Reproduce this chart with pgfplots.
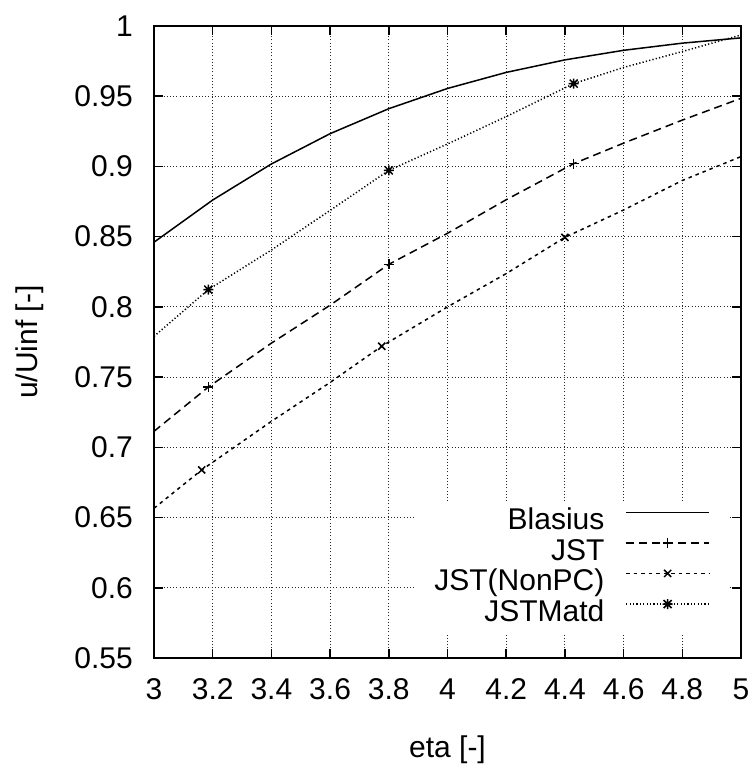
\documentclass[border=0pt]{standalone}
\usepackage{fontspec}
\setmainfont{Liberation Sans}
\usepackage{pgfplots}
\pgfplotsset{compat=1.18}

\pgfdeclareplotmark{gpast}{%
  \pgfpathmoveto{\pgfqpoint{-\pgfplotmarksize}{0pt}}%
  \pgfpathlineto{\pgfqpoint{\pgfplotmarksize}{0pt}}%
  \pgfpathmoveto{\pgfqpoint{0pt}{-\pgfplotmarksize}}%
  \pgfpathlineto{\pgfqpoint{0pt}{\pgfplotmarksize}}%
  \pgfpathmoveto{\pgfqpoint{-0.8\pgfplotmarksize}{-0.8\pgfplotmarksize}}%
  \pgfpathlineto{\pgfqpoint{0.8\pgfplotmarksize}{0.8\pgfplotmarksize}}%
  \pgfpathmoveto{\pgfqpoint{-0.8\pgfplotmarksize}{0.8\pgfplotmarksize}}%
  \pgfpathlineto{\pgfqpoint{0.8\pgfplotmarksize}{-0.8\pgfplotmarksize}}%
  \pgfusepathqstroke}

\begin{document}
\begin{tikzpicture}
\begin{axis}[
  name=ax,
  scale only axis, width=587bp, height=632bp,
  xmin=3, xmax=5, ymin=0.55, ymax=1,
  xtick={3,3.2,3.4,3.6,3.8,4,4.2,4.4,4.6,4.8,5},
  ytick={0.55,0.6,0.65,0.7,0.75,0.8,0.85,0.9,0.95,1},
  xticklabels={3,3.2,3.4,3.6,3.8,4,4.2,4.4,4.6,4.8,5},
  yticklabels={0.55,0.6,0.65,0.7,0.75,0.8,0.85,0.9,0.95,1},
  font=\fontsize{30bp}{35bp}\selectfont,
  grid=major,
  major grid style={line width=0.9bp, black!85, dash pattern=on 1bp off 2.2bp},
  axis line style={line width=1.7bp},
  every tick/.style={line width=1.5bp, black},
  tick align=inside, major tick length=9bp,
  xticklabel style={anchor=north, inner sep=0pt, yshift=-20.5bp},
  yticklabel style={anchor=east, inner sep=0pt, xshift=-21bp},
  xlabel={eta [-]}, ylabel={u/Uinf [-]},
  xlabel style={at={(axis description cs:0.5,-0.1456)}, anchor=center},
  ylabel style={at={(axis description cs:-0.2112,0.5)}, anchor=center},
  legend cell align=right, legend plot pos=right,
  legend image code/.code={\draw[#1, mark indices={2}] plot coordinates {(0bp,10.5bp) (41.5bp,10.5bp) (83bp,10.5bp)};},
  legend style={at={(rel axis cs:0.978,0.2468)}, anchor=north east, draw=none, fill=white,
    inner xsep=18bp, inner ysep=5.6bp, row sep=0bp,
    nodes={inner sep=0pt, text height=22bp, text depth=8.3bp},
    /tikz/every odd column/.append style={column sep=21bp}},
]
\addplot[black, line width=1.5bp, solid] coordinates {
(3.0,0.84605) (3.2,0.87609) (3.4,0.90177) (3.6,0.92333) (3.8,0.94112) (4.0,0.95552)
(4.2,0.96696) (4.4,0.97587) (4.6,0.98269) (4.8,0.98779) (5.0,0.99155)};
\addlegendentry{Blasius}
\addplot[black, line width=1.5bp, dash pattern=on 8bp off 5bp, mark=+, mark size=5bp,
  mark options={solid, line width=1.5bp}, mark indices={2,5,8}] coordinates {
(3.0,0.7114) (3.185,0.7429) (3.4,0.7742) (3.6,0.8012) (3.8,0.8303) (4.0,0.8524)
(4.2,0.8763) (4.43,0.9020) (4.6,0.9166) (4.8,0.9330) (5.0,0.9485)};
\addlegendentry{JST}
\addplot[black, line width=1.5bp, dash pattern=on 3.5bp off 4bp, mark=x, mark size=5bp,
  mark options={solid, line width=1.5bp}, mark indices={2,5,8}] coordinates {
(3.0,0.6566) (3.1625,0.6839) (3.4,0.7185) (3.6,0.7462) (3.776,0.7720) (4.0,0.8000)
(4.2,0.8237) (4.40,0.8495) (4.6,0.8690) (4.8,0.8900) (5.0,0.9070)};
\addlegendentry{JST(NonPC)}
\addplot[black, line width=1.5bp, dash pattern=on 1.2bp off 2.2bp, mark=gpast, mark size=5bp,
  mark options={solid, line width=1.5bp}, mark indices={2,5,8}] coordinates {
(3.0,0.7790) (3.185,0.8123) (3.4,0.8405) (3.6,0.8687) (3.8,0.8972) (4.0,0.9160)
(4.2,0.9355) (4.43,0.9590) (4.6,0.9705) (4.8,0.9818) (5.0,0.9936)};
\addlegendentry{JSTMatd}
\end{axis}
\pgfresetboundingbox
\path[use as bounding box] (-154bp,-108bp) rectangle (597bp,658bp);
\end{tikzpicture}
\end{document}
